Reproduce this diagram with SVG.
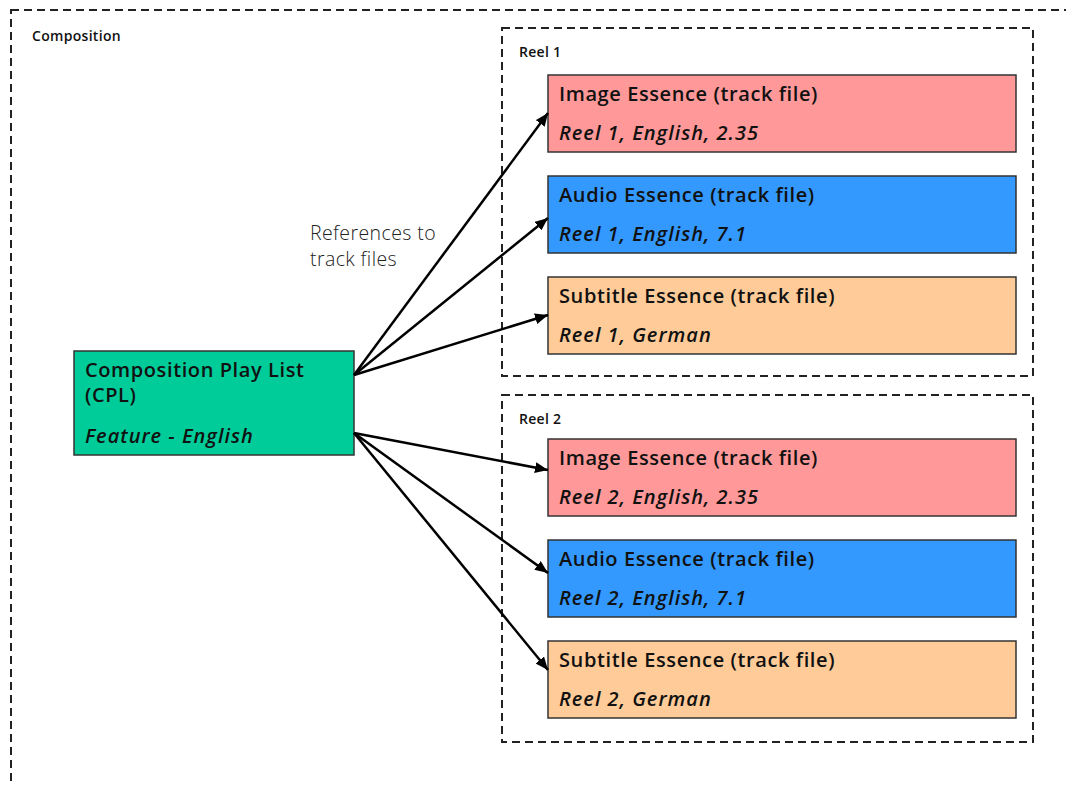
<svg xmlns="http://www.w3.org/2000/svg" width="1066" height="785" viewBox="0 0 1066 785">
<defs>
<marker id="arr" viewBox="0 0 13 11" refX="13" refY="5.5" markerWidth="13" markerHeight="11" markerUnits="userSpaceOnUse" orient="auto">
<path d="M0,0 L13,5.5 L0,11 Z" fill="#000"/>
</marker>
<style>
.frame{fill:none;stroke:#222;stroke-width:2;stroke-dasharray:8 5}
.box{stroke:#333;stroke-width:1.5}
.img{fill:#FF9999}
.aud{fill:#3399FF}
.sub{fill:#FFCC99}
.cpl{fill:#00CC99}
.t{font-family:"Open Sans","Noto Sans",sans-serif;font-size:20px;font-weight:600;letter-spacing:0.6px;fill:#111}
.i{font-family:"Open Sans","Noto Sans",sans-serif;font-size:20px;font-weight:600;font-style:italic;letter-spacing:1px;fill:#111}
.lbl{font-family:"Open Sans","Noto Sans",sans-serif;font-size:14px;font-weight:600;letter-spacing:0.3px;fill:#111}
.ref{font-family:"Open Sans","Noto Sans",sans-serif;font-size:19.5px;font-weight:300;letter-spacing:0.4px;fill:#222}
.c{stroke:#000;stroke-width:2.5;fill:none;marker-end:url(#arr)}
</style>
</defs>
<g id="composition">
<rect class="frame" x="11" y="10" width="1100" height="800"/>
<text class="lbl" x="32" y="41">Composition</text>
</g>
<g id="reel1">
<rect class="frame" x="502" y="28" width="531" height="348"/>
<text class="lbl" x="519" y="57">Reel 1</text>
</g>
<g id="reel2">
<rect class="frame" x="502" y="395" width="531" height="347"/>
<text class="lbl" x="519" y="424">Reel 2</text>
</g>
<g id="cpl">
<rect class="box cpl" x="74" y="351" width="280" height="104"/>
<text class="t" x="85" y="377">Composition Play List</text>
<text class="t" x="85" y="402">(CPL)</text>
<text class="i" x="85" y="443">Feature - English</text>
</g>
<g id="image1">
<rect class="box img" x="548" y="75" width="468" height="77"/>
<text class="t" x="559" y="101">Image Essence (track file)</text>
<text class="i" x="559" y="140">Reel 1, English, 2.35</text>
</g>
<g id="audio1">
<rect class="box aud" x="548" y="176" width="468" height="77"/>
<text class="t" x="559" y="202">Audio Essence (track file)</text>
<text class="i" x="559" y="241">Reel 1, English, 7.1</text>
</g>
<g id="subtitle1">
<rect class="box sub" x="548" y="277" width="468" height="77"/>
<text class="t" x="559" y="303">Subtitle Essence (track file)</text>
<text class="i" x="559" y="342">Reel 1, German</text>
</g>
<g id="image2">
<rect class="box img" x="548" y="439" width="468" height="77"/>
<text class="t" x="559" y="465">Image Essence (track file)</text>
<text class="i" x="559" y="504">Reel 2, English, 2.35</text>
</g>
<g id="audio2">
<rect class="box aud" x="548" y="540" width="468" height="77"/>
<text class="t" x="559" y="566">Audio Essence (track file)</text>
<text class="i" x="559" y="605">Reel 2, English, 7.1</text>
</g>
<g id="subtitle2">
<rect class="box sub" x="548" y="641" width="468" height="77"/>
<text class="t" x="559" y="667">Subtitle Essence (track file)</text>
<text class="i" x="559" y="706">Reel 2, German</text>
</g>
<g id="connectors">
<path class="c" d="M354,375 L548,113"/>
<path class="c" d="M354,375 L548,218"/>
<path class="c" d="M354,375 L548,315"/>
<path class="c" d="M354,433 L548,470"/>
<path class="c" d="M354,433 L548,573"/>
<path class="c" d="M354,433 L548,670"/>
<text class="ref" x="310" y="240">References to</text>
<text class="ref" x="310" y="266">track files</text>
</g>
</svg>
